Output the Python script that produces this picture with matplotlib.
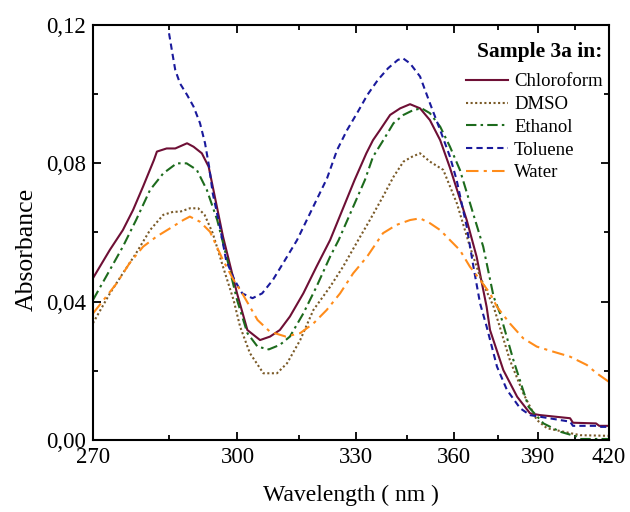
import numpy as np
import matplotlib
matplotlib.use('Agg')
import matplotlib.pyplot as plt
from matplotlib.ticker import FixedLocator, FuncFormatter, NullFormatter

plt.rcParams['font.family'] = ['Liberation Serif', 'DejaVu Serif']

# Spectra (wavelength in nm, absorbance)
chloro_wl = [270, 273.2, 275.7, 277.7, 279.7, 281.9, 282.5, 284.5, 286.3, 288.8, 290.2, 292.0, 293.5,
             296.7, 299.9, 302.3, 305.3, 307.7, 310.1, 312.6, 316.0, 319.4, 323.0, 329.7,
             333.0, 334.9, 336.9, 339.9, 342.9, 345.9, 349.0, 352.1, 355.4, 358.6, 364.2,
             367.6, 371.1, 372.3, 377.1, 382.2, 387.1, 391.0, 403.1, 404.3, 414.2, 415.6, 420]
chloro_abs = [0.0468, 0.0550, 0.0607, 0.0665, 0.0733, 0.0810, 0.0834, 0.0843, 0.0843, 0.0858, 0.0848, 0.0829, 0.0790,
              0.0588, 0.0424, 0.0318, 0.0289, 0.0299, 0.0318, 0.0357, 0.0424, 0.0501, 0.0578, 0.0752,
              0.0829, 0.0867, 0.0896, 0.0940, 0.0959, 0.0971, 0.0959, 0.0925, 0.0867, 0.0787, 0.0636,
              0.0530, 0.0385, 0.0318, 0.0202, 0.0125, 0.0077, 0.0072, 0.0063, 0.0050, 0.0048, 0.0041, 0.0041]

dmso_wl = [270, 270.7, 273.2, 275.7, 278.3, 281.1, 283.8, 285.9, 287.3, 289.4, 291.2, 292.6,
           294.4, 296.7, 299.1, 300.6, 302.9, 306.1, 309.4, 311.9, 315.2, 318.6, 323.0, 326.5,
           330.7, 334.0, 337.8, 340.9, 343.9, 346.5, 349.0, 352.1, 356.4, 360.9, 365.3, 368.8,
           373.6, 379.5, 384.5, 389.7, 393.7, 400.4, 407.3, 420]
dmso_abs = [0.0338, 0.0357, 0.0424, 0.0482, 0.0540, 0.0607, 0.0651, 0.0660, 0.0660, 0.0670, 0.0670, 0.0651,
            0.0598, 0.0501, 0.0405, 0.0328, 0.0251, 0.0193, 0.0193, 0.0222, 0.0289, 0.0376, 0.0443, 0.0501,
            0.0578, 0.0636, 0.0704, 0.0761, 0.0805, 0.0819, 0.0829, 0.0805, 0.0781, 0.0684, 0.0559, 0.0472,
            0.0385, 0.0231, 0.0135, 0.0058, 0.0034, 0.0024, 0.0014, 0.0012]

ethanol_wl = [270, 273.2, 275.7, 278.3, 281.1, 283.8, 286.6, 288.7, 290.9, 293.1, 295.4, 297.7,
              299.9, 302.3, 304.7, 307.4, 310.1, 312.6, 316.0, 319.4, 323.0, 325.3, 332.6, 334.9,
              337.9, 340.9, 343.9, 346.9, 349.5, 352.1, 355.4, 358.6, 361.9, 366.4, 369.9, 373.6,
              375.9, 380.8, 386.5, 392.3, 399.0, 405.9, 407.3, 420]
ethanol_abs = [0.0405, 0.0492, 0.0559, 0.0636, 0.0723, 0.0771, 0.0800, 0.0800, 0.0781, 0.0723, 0.0636, 0.0520,
               0.0405, 0.0309, 0.0270, 0.0262, 0.0275, 0.0299, 0.0366, 0.0443, 0.0530, 0.0578, 0.0752, 0.0819,
               0.0867, 0.0916, 0.0940, 0.0954, 0.0959, 0.0945, 0.0906, 0.0848, 0.0781, 0.0655, 0.0559, 0.0414,
               0.0366, 0.0231, 0.0096, 0.0048, 0.0024, 0.0010, 0.0003, 0.0003]

toluene_wl = [285.0, 285.7, 286.3, 287.3, 288.8, 290.2, 291.6, 292.7, 293.6, 294.4, 296.0, 297.4,
              299.3, 301.1, 303.5, 305.8, 308.4, 310.9, 314.4, 322.2, 324.9, 327.6, 330.6, 333.3,
              336.3, 339.3, 342.2, 343.7, 345.9, 349.0, 352.1, 355.4, 358.6, 360.8, 364.2, 366.5,
              368.8, 371.1, 374.8, 378.4, 383.3, 387.1, 403.1, 404.3, 414.9, 416.5, 420]
toluene_abs = [0.1176, 0.1118, 0.1070, 0.1031, 0.0998, 0.0964, 0.0916, 0.0858, 0.0790, 0.0713, 0.0617, 0.0520,
               0.0463, 0.0424, 0.0410, 0.0424, 0.0463, 0.0511, 0.0578, 0.0757, 0.0839, 0.0896, 0.0949, 0.0998,
               0.1041, 0.1075, 0.1099, 0.1104, 0.1089, 0.1051, 0.0974, 0.0896, 0.0819, 0.0752, 0.0617, 0.0501,
               0.0395, 0.0328, 0.0212, 0.0145, 0.0092, 0.0072, 0.0053, 0.0041, 0.0041, 0.0038, 0.0038]

water_wl = [270, 272.0, 274.5, 277.0, 279.7, 282.4, 285.2, 288.0, 289.4, 291.6, 293.8, 295.3,
            296.7, 299.1, 301.1, 304.7, 307.7, 311.6, 315.2, 318.6, 322.1, 325.7, 329.3, 333.2,
            337.8, 341.8, 345.9, 349.0, 352.1, 355.4, 358.6, 361.9, 365.3, 368.8, 372.3, 374.8,
            379.5, 384.5, 389.7, 396.4, 403.1, 410.2, 414.5, 420]
water_abs = [0.0366, 0.0405, 0.0453, 0.0511, 0.0559, 0.0588, 0.0612, 0.0636, 0.0646, 0.0631, 0.0602, 0.0559,
             0.0520, 0.0463, 0.0424, 0.0347, 0.0313, 0.0299, 0.0309, 0.0337, 0.0376, 0.0424, 0.0482, 0.0530,
             0.0598, 0.0622, 0.0636, 0.0641, 0.0627, 0.0607, 0.0578, 0.0549, 0.0501, 0.0463, 0.0424, 0.0385,
             0.0337, 0.0294, 0.0270, 0.0255, 0.0241, 0.0217, 0.0193, 0.0168]

x_major = [270, 300, 330, 360, 390, 420]
x_minor = [285, 315, 345, 375, 405]
y_major = [0.00, 0.04, 0.08, 0.12]
y_minor = [0.02, 0.06, 0.10]

fig = plt.figure(figsize=(6.3, 5.12), dpi=100)
ax = fig.add_axes([0.1476, 0.1406, 0.8191, 0.8106])


# axis is linear in energy, i.e. in 1/wavelength
def fwd(x):
    with np.errstate(divide='ignore'):
        return -1.0 / np.asarray(x, dtype=float)


def inv(y):
    with np.errstate(divide='ignore'):
        return -1.0 / np.asarray(y, dtype=float)


ax.set_xscale('function', functions=(fwd, inv))

lw = 1.5
ax.plot(chloro_wl, chloro_abs, color='#6e0f35', lw=lw, label='Chloroform')
ax.plot(dmso_wl, dmso_abs, color='#7a5a28', lw=lw, ls=(0, (1, 1.2)), label='DMSO')
ax.plot(ethanol_wl, ethanol_abs, color='#1d6b1d', lw=lw, ls=(0, (5, 2, 1.2, 2)), label='Ethanol')
ax.plot(toluene_wl, toluene_abs, color='#1a1a9c', lw=lw, ls=(0, (3, 2)), label='Toluene')
ax.plot(water_wl, water_abs, color='#ff8c1a', lw=lw, ls=(0, (6, 2.5, 1.5, 2.5)), label='Water')

ax.set_xlim(270, 420)
ax.set_ylim(0, 0.12)
ax.xaxis.set_major_locator(FixedLocator(x_major))
ax.xaxis.set_minor_locator(FixedLocator(x_minor))
ax.xaxis.set_major_formatter(FuncFormatter(lambda v, p: f'{v:.0f}'))
ax.xaxis.set_minor_formatter(NullFormatter())
ax.yaxis.set_major_locator(FixedLocator(y_major))
ax.yaxis.set_minor_locator(FixedLocator(y_minor))
ax.yaxis.set_major_formatter(FuncFormatter(lambda v, p: f'{v:.2f}'.replace('.', ',')))

ax.tick_params(which='both', direction='in', top=True, right=True, width=1.3)
ax.tick_params(which='major', length=6, labelsize=16.5, pad=5)
ax.tick_params(which='minor', length=3.5)
for s in ax.spines.values():
    s.set_linewidth(1.5)

ax.set_xlabel('Wavelength ( nm )', fontsize=17, labelpad=12)
ax.set_ylabel('Absorbance', fontsize=18.5)
ax.yaxis.set_label_coords(-0.107, 0.46)

leg = ax.legend(title='Sample 3a in:', loc='upper right', frameon=False, fontsize=13.5,
                title_fontproperties={'weight': 'bold', 'size': 15.5}, handlelength=2.25,
                handletextpad=0.3, labelspacing=0.3, borderaxespad=0.3,
                bbox_to_anchor=(1.013, 0.99))
leg._legend_box.align = 'right'
leg._legend_box.sep = 8

fig.savefig('out.png', dpi=100)
